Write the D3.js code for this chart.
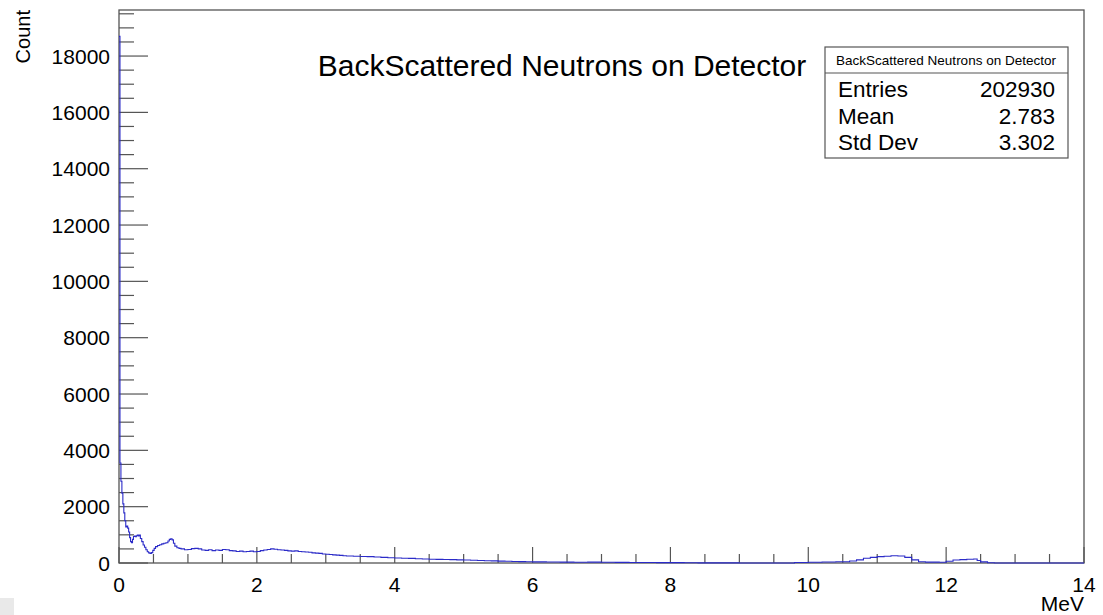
<!DOCTYPE html>
<html>
<head>
<meta charset="utf-8">
<script src="https://cdn.jsdelivr.net/npm/d3@7"></script>
<style>
    body {margin:0;background:#fff;}
    text {font-family:"Liberation Sans", Arial, Helvetica, sans-serif;fill:#000;}
</style>
</head>
<body>
<svg id="chart" width="1103" height="615"></svg>
<script>
// histogram bins: lower edge (MeV) and count, last edge closes the range
const binLow = [
    0.000,0.014,0.028,0.042,0.056,0.070,0.084,0.098,0.112,0.126,0.140,0.154,0.168,0.182,0.196,0.210,
    0.224,0.238,0.252,0.266,0.280,0.294,0.31,0.33,0.35,0.37,0.39,0.41,0.43,0.45,0.47,0.49,0.51,0.53,
    0.56,0.59,0.62,0.65,0.68,0.71,0.73,0.75,0.77,0.79,0.81,0.84,0.87,0.90,0.95,
    1.00,1.05,1.10,1.15,1.20,1.25,1.30,1.35,1.40,1.45,1.50,1.55,1.60,1.65,1.70,1.75,1.80,1.85,1.90,1.95,
    2.00,2.05,2.10,2.15,2.20,2.25,2.30,2.35,2.40,2.45,2.50,2.55,2.60,2.65,2.70,2.75,2.80,2.85,2.90,2.95,
    3.00,3.05,3.10,3.15,3.20,3.25,3.30,3.40,3.50,3.60,3.70,3.80,3.90,
    4.00,4.10,4.20,4.30,4.40,4.50,4.60,4.70,4.80,4.90,5.00,5.10,5.20,5.30,5.40,5.50,5.60,5.70,5.80,5.90,
    6.00,6.20,6.40,6.60,6.80,7.00,7.20,7.40,7.60,7.80,8.00,8.20,8.40,8.60,8.80,9.00,9.40,9.80,
    10.00,10.20,10.40,10.60,10.70,10.80,10.90,11.00,11.10,11.20,11.30,11.40,11.50,11.60,11.70,11.90,
    12.00,12.10,12.20,12.30,12.40,12.45,12.50,12.60,12.70
];
const binHigh = 14;
const counts = [
    18700,3550,2900,2480,2100,1780,1500,1280,1310,1240,1100,900,760,720,840,940,
    960,930,970,990,960,990,870,760,640,560,470,400,360,340,370,450,520,580,
    620,650,680,700,720,780,840,860,820,700,600,540,520,500,470,
    480,510,520,500,460,450,470,440,460,450,480,470,440,430,410,420,400,410,420,400,
    410,440,460,480,500,490,470,460,450,430,420,430,410,400,390,380,360,350,340,320,
    310,300,290,280,270,260,250,240,230,225,215,200,185,
    175,170,165,150,140,135,130,125,120,110,105,100,90,80,75,65,60,55,50,45,
    40,35,30,28,30,25,22,20,18,15,12,10,6,4,3,2,2,20,
    25,35,45,70,110,170,200,225,240,260,250,200,110,45,30,25,
    60,105,120,135,140,90,40,10,0
];
const xTicks = [0,2,4,6,8,10,12,14];
const yTicks = [0,2000,4000,6000,8000,10000,12000,14000,16000,18000];
const statLabels = ['Entries','Mean','Std Dev'];
const statValues = ['202930','2.783','3.302'];
const histTitle = 'BackScattered Neutrons on Detector';

let graphicopt = {
    margin: {top: 10, right: 19, bottom: 52, left: 119},
    width: 1103,
    height: 615,
    widthG: function () {
        return this.width - this.margin.left - this.margin.right
    },
    heightG: function () {
        return this.height - this.margin.top - this.margin.bottom
    },
    axisColor: '#555',
    lineColor: '#2b2bc8',
};

const svg = d3.select('#chart');
// light grey corner left over in the screenshot
svg.append('rect').attr('x',0).attr('y',598).attr('width',14).attr('height',17).attr('fill','#e9e9e9');

const g = svg.append('g')
    .attr('transform', 'translate(' + graphicopt.margin.left + ',' + graphicopt.margin.top + ')');

const yMax = d3.max(counts) * 1.05;
const xscale = d3.scaleLinear().domain([0, binHigh]).range([0, graphicopt.widthG()]);
const yscale = d3.scaleLinear().domain([0, yMax]).range([graphicopt.heightG(), 0]);

// frame
g.append('rect')
    .attr('width', graphicopt.widthG())
    .attr('height', graphicopt.heightG())
    .attr('fill','none')
    .attr('stroke', graphicopt.axisColor)
    .attr('stroke-width', 1.3);

// x axis: ticks point inward (up)
const xMinor = d3.range(0, binHigh + 0.001, 0.5);
g.append('g').selectAll('line.xtick').data(xMinor)
    .join('line')
    .attr('class','xtick')
    .attr('x1', d => xscale(d)).attr('x2', d => xscale(d))
    .attr('y1', graphicopt.heightG())
    .attr('y2', d => graphicopt.heightG() - (d % 2 === 0 ? 16 : 9))
    .attr('stroke', graphicopt.axisColor)
    .attr('stroke-width', 1.2);
g.append('g').selectAll('text.xlab').data(xTicks)
    .join('text')
    .attr('class','xlab')
    .attr('x', d => xscale(d))
    .attr('y', graphicopt.heightG() + 29)
    .attr('text-anchor','middle')
    .style('font-size','21px')
    .text(d => d);
g.append('text')
    .attr('x', graphicopt.widthG())
    .attr('y', graphicopt.heightG() + 48)
    .attr('text-anchor','end')
    .style('font-size','21px')
    .text('MeV');

// y axis: ticks point inward (right)
const yMinor = d3.range(0, yMax, 500);
g.append('g').selectAll('line.ytick').data(yMinor)
    .join('line')
    .attr('class','ytick')
    .attr('y1', d => yscale(d)).attr('y2', d => yscale(d))
    .attr('x1', 0)
    .attr('x2', d => d % 2000 === 0 ? 29 : 15)
    .attr('stroke', graphicopt.axisColor)
    .attr('stroke-width', 1.2);
g.append('g').selectAll('text.ylab').data(yTicks)
    .join('text')
    .attr('class','ylab')
    .attr('x', -9)
    .attr('y', d => yscale(d))
    .attr('dy','0.36em')
    .attr('text-anchor','end')
    .style('font-size','21px')
    .text(d => d);
g.append('text')
    .attr('transform','translate(-89,0) rotate(-90)')
    .attr('text-anchor','end')
    .style('font-size','20px')
    .text('Count');

// histogram outline
const steps = binLow.map((d,i) => [d, counts[i]]);
steps.push([binHigh, counts[counts.length-1]]);
g.append('path')
    .datum(steps)
    .attr('fill','none')
    .attr('stroke', graphicopt.lineColor)
    .attr('stroke-width', 1.1)
    .attr('d', d3.line().x(d => xscale(d[0])).y(d => yscale(d[1])).curve(d3.curveStepAfter));

// title
svg.append('text')
    .attr('x', 562)
    .attr('y', 76)
    .attr('text-anchor','middle')
    .style('font-size','30px')
    .text(histTitle);

// stats box
const stats = svg.append('g').attr('transform','translate(825,47)');
stats.append('rect')
    .attr('width', 243).attr('height', 111)
    .attr('fill','#fff')
    .attr('stroke', graphicopt.axisColor)
    .attr('stroke-width', 1.2);
stats.append('line')
    .attr('x1',0).attr('x2',243).attr('y1',26).attr('y2',26)
    .attr('stroke', graphicopt.axisColor)
    .attr('stroke-width', 1.2);
stats.append('text')
    .attr('x', 121).attr('y', 18)
    .attr('text-anchor','middle')
    .style('font-size','13.5px')
    .text(histTitle);
stats.selectAll('text.slab').data(statLabels)
    .join('text')
    .attr('class','slab')
    .attr('x', 13)
    .attr('y', (d,i) => 50 + i * 26.5)
    .style('font-size','22.5px')
    .text(d => d);
stats.selectAll('text.sval').data(statValues)
    .join('text')
    .attr('class','sval')
    .attr('x', 230)
    .attr('y', (d,i) => 50 + i * 26.5)
    .attr('text-anchor','end')
    .style('font-size','22.5px')
    .text(d => d);
</script>
</body>
</html>
